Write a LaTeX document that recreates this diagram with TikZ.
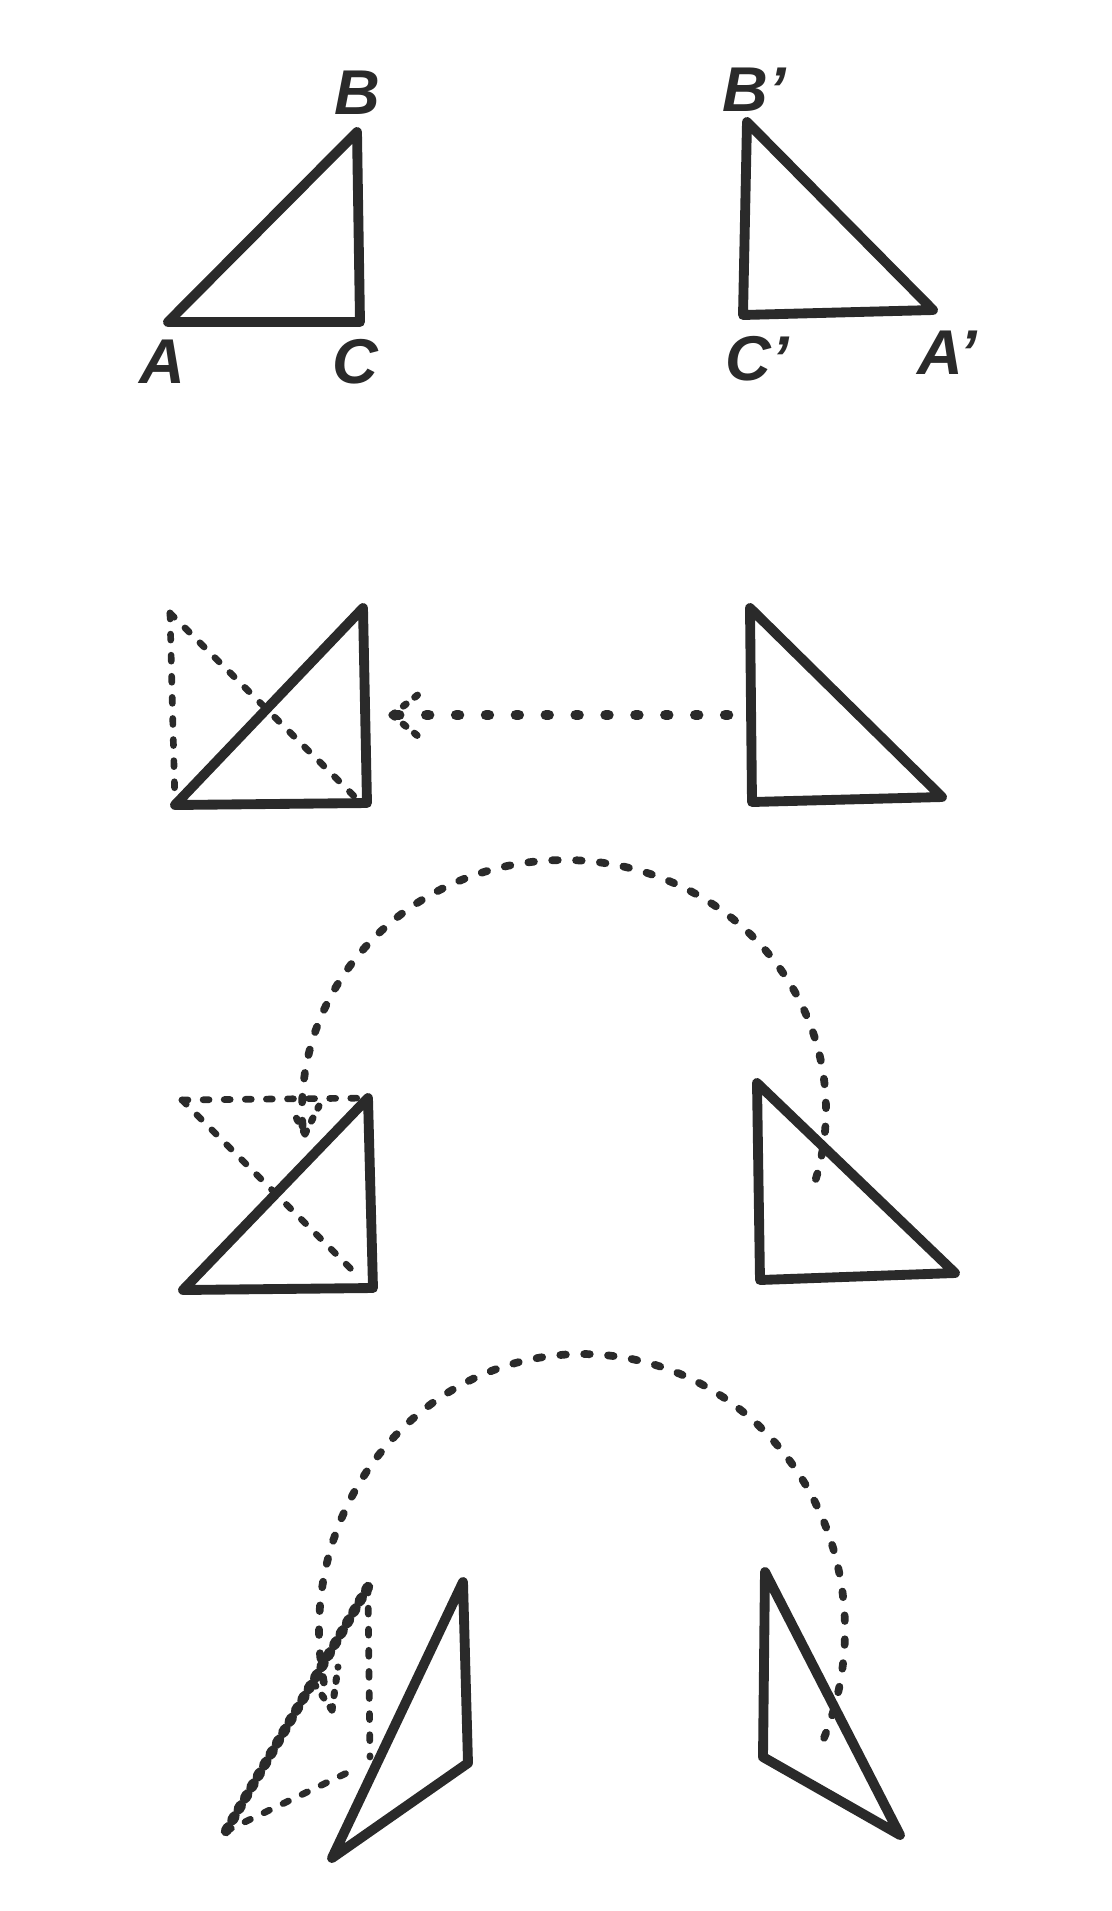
\documentclass[tikz,border=0pt]{standalone}
\usepackage{fontspec}
\setmainfont{Liberation Sans}
\definecolor{ink}{HTML}{2A2A2A}
\begin{document}
\begin{tikzpicture}[x=0.01cm,y=-0.01cm,
  solidedge/.style={draw=ink, line width=2.8pt, line join=round, line cap=round},
  dashedge/.style={draw=ink, line width=1.9pt, line cap=round, dash pattern=on 1.7pt off 4.3pt},
  heavydash/.style={draw=ink, line width=3.0pt, line cap=round, dash pattern=on 1.2pt off 2.4pt},
  dotline/.style={draw=ink, line width=3.0pt, line cap=round, dash pattern=on 0.8pt off 7.7pt},
  arcline/.style={draw=ink, line width=2.2pt, line cap=round, dash pattern=on 1.6pt off 5.2pt},
  headline/.style={draw=ink, line width=2.0pt, line cap=round, dash pattern=on 1.0pt off 3.1pt},
  lab/.style={font=\fontsize{18}{18}\selectfont\bfseries\itshape, text=ink, inner sep=0pt}]
\useasboundingbox[fill=white] (0,0) rectangle (1111,1911);

% ---------- Row 1 ----------
\coordinate (A) at (168,322);
\coordinate (B) at (357,132);
\coordinate (C) at (360,322);
\draw[solidedge] (A) -- (B) -- (C) -- cycle;
\node[lab] (lA) at (162,362) {A};
\node[lab] (lB) at (357,93) {B};
\node[lab] (lC) at (355,362) {C};

\coordinate (B1) at (747,122);
\coordinate (C1) at (743,315);
\coordinate (A1) at (933,310);
\draw[solidedge] (B1) -- (C1) -- (A1) -- cycle;
\node[lab] (lB1) at (754,90) {B’};
\node[lab] (lC1) at (757,359) {C’};
\node[lab] (lA1) at (947,353) {A’};

% ---------- Row 2 ----------
\coordinate (r2bl) at (175,805);
\coordinate (r2tr) at (363,608);
\coordinate (r2br) at (367,803);
\coordinate (r2tl) at (170,613);
\coordinate (r2de) at (357,799);
\draw[dashedge] (r2tl) -- (r2bl);
\draw[dashedge] (r2tl) -- (r2de);
\draw[solidedge] (r2bl) -- (r2tr) -- (r2br) -- cycle;

\coordinate (r2t) at (750,608);
\coordinate (r2l) at (752,802);
\coordinate (r2r) at (942,797);
\draw[solidedge] (r2t) -- (r2l) -- (r2r) -- cycle;

\coordinate (ar2s) at (728,715);
\coordinate (ar2e) at (392,715);
\coordinate (ar2a) at (424,690);
\coordinate (ar2b) at (424,741);
\draw[dotline] (ar2s) -- (ar2e);
\draw[headline] (ar2e) -- (ar2a);
\draw[headline] (ar2e) -- (ar2b);

% ---------- Row 3 ----------
\coordinate (r3bl) at (183,1290);
\coordinate (r3tr) at (368,1098);
\coordinate (r3br) at (373,1288);
\coordinate (r3tl) at (182,1100);
\coordinate (r3de) at (361,1279);
\draw[dashedge] (r3tl) -- (r3tr);
\draw[dashedge] (r3tl) -- (r3de);
\draw[solidedge] (r3bl) -- (r3tr) -- (r3br) -- cycle;

\coordinate (r3t) at (757,1083);
\coordinate (r3l) at (760,1280);
\coordinate (r3r) at (955,1273);
\draw[solidedge] (r3t) -- (r3l) -- (r3r) -- cycle;

\draw[arcline] plot[domain=-16:185, samples=120] ({564+262*cos(\x)},{1110-250*sin(\x)});
\coordinate (h3t) at (305,1134);
\coordinate (h3a) at (292,1110);
\coordinate (h3b) at (319,1106);
\draw[headline] (h3t) -- (h3a);
\draw[headline] (h3t) -- (h3b);

% ---------- Row 4 ----------
\coordinate (r4dt) at (368,1587);
\coordinate (r4dl) at (370,1757);
\coordinate (r4db) at (226,1831);
\coordinate (r4de) at (355,1769);
\draw[dashedge] (r4dt) -- (r4dl);
\draw[dashedge] (r4db) -- (r4de);
\draw[heavydash] (r4db) -- (r4dt);

\coordinate (r4t) at (463,1582);
\coordinate (r4m) at (468,1763);
\coordinate (r4b) at (332,1858);
\draw[solidedge] (r4t) -- (r4m) -- (r4b) -- cycle;

\coordinate (r4rt) at (765,1572);
\coordinate (r4rm) at (763,1757);
\coordinate (r4rb) at (900,1835);
\draw[solidedge] (r4rt) -- (r4rm) -- (r4rb) -- cycle;

\draw[arcline] plot[domain=-23:194, samples=120] ({582+263*cos(\x)},{1630-276*sin(\x)});
\coordinate (h4t) at (332,1710);
\coordinate (h4a) at (309,1676);
\coordinate (h4b) at (338,1667);
\draw[headline] (h4t) -- (h4a);
\draw[headline] (h4t) -- (h4b);
\end{tikzpicture}
\end{document}
